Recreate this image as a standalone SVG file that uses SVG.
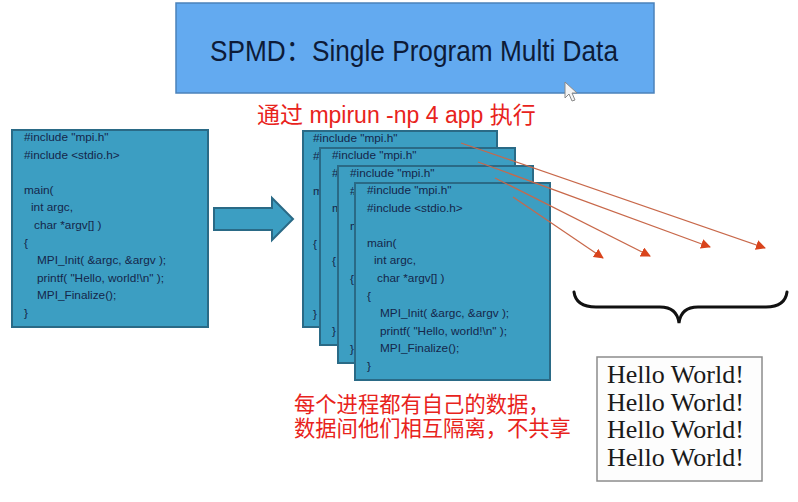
<svg xmlns="http://www.w3.org/2000/svg" xmlns:xlink="http://www.w3.org/1999/xlink" width="798" height="502" viewBox="0 0 798 502">
<style>
.box{fill:#3c9ec2;stroke:#2a6a86;stroke-width:2}
.code{font-family:"Liberation Sans",Arial,sans-serif;font-size:11.8px;fill:#15264a}
.red{font-family:"Liberation Sans","Noto Sans CJK SC",sans-serif;fill:#e8231c}
.hello{font-family:"Liberation Serif","Times New Roman",serif;font-size:26px;fill:#1a1a1a}
.ray{stroke:#c8684a;stroke-width:1.2;fill:none;marker-end:url(#ah)}
</style>
<defs>
<marker id="ah" viewBox="0 0 10 10" refX="9" refY="5" markerWidth="10" markerHeight="10" markerUnits="userSpaceOnUse" orient="auto">
<path d="M0,0 L10,5 L0,10 Z" fill="#d9441c"/>
</marker>
<g id="code" class="code">
<text x="12" y="11">#include "mpi.h"</text>
<text x="12" y="28.6">#include &lt;stdio.h&gt;</text>
<text x="12" y="63.8">main(</text>
<text x="19" y="81.4">int argc,</text>
<text x="22" y="99">char *argv[] )</text>
<text x="12" y="116.6">{</text>
<text x="25" y="134.2">MPI_Init( &amp;argc, &amp;argv );</text>
<text x="25" y="151.8">printf( "Hello, world!\n" );</text>
<text x="25" y="169.4">MPI_Finalize();</text>
<text x="12" y="187">}</text>
</g>
</defs>
<rect width="798" height="502" fill="#ffffff"/>

<g id="title">
<rect x="176" y="3" width="478" height="90" fill="#63aaf0" stroke="#4b82bb" stroke-width="1.5"/>
<text x="210" y="61" font-family="Liberation Sans,Arial,Noto Sans CJK SC,sans-serif" font-size="29" fill="#0d1b38" textLength="408" lengthAdjust="spacingAndGlyphs">SPMD：Single Program Multi Data</text>
<path d="M565,82 L565,98 L569,94 L572,101 L575,100 L572,93 L577,93 Z" fill="#f4f4f4" stroke="#8a8a8a" stroke-width="1"/>
</g>

<g id="label-run">
<text class="red" x="257" y="123" font-size="23">通过 mpirun -np 4 app 执行</text>
</g>

<g id="source">
<rect class="box" x="12" y="130" width="196" height="197"/>
<use xlink:href="#code" transform="translate(12,130)"/>
</g>

<g id="big-arrow">
<path d="M214,208 L272,208 L272,198 L293,219 L272,240 L272,230 L214,230 Z" fill="#3c9ec2" stroke="#2a6a86" stroke-width="2" stroke-linejoin="miter"/>
</g>

<g id="proc1">
<rect class="box" x="303" y="131" width="194" height="196"/>
<use xlink:href="#code" transform="translate(301,131)"/>
</g>
<g id="proc2">
<rect class="box" x="320" y="148" width="195" height="197"/>
<use xlink:href="#code" transform="translate(320,148)"/>
</g>
<g id="proc3">
<rect class="box" x="338" y="166" width="195" height="197"/>
<use xlink:href="#code" transform="translate(338,166)"/>
</g>
<g id="proc4">
<rect class="box" x="355" y="183" width="195" height="197"/>
<use xlink:href="#code" transform="translate(355,183)"/>
</g>

<g id="connectors">
<line class="ray" x1="461" y1="143" x2="765" y2="248"/>
<line class="ray" x1="478" y1="162" x2="710" y2="247"/>
<line class="ray" x1="495" y1="178" x2="650" y2="256"/>
<line class="ray" x1="513" y1="197" x2="603" y2="258"/>
</g>

<g id="brace">
<path d="M574,292 Q576,307 596,307 L660,307 Q677,307 679,323 Q681,307 698,307 L766,307 Q785,307 787,292" fill="none" stroke="#111" stroke-width="3" stroke-linecap="round"/>
</g>

<g id="output">
<rect x="597" y="357" width="165" height="124" fill="#fdfdfd" stroke="#8c8c8c" stroke-width="1.5"/>
<text class="hello" x="607" y="383">Hello World!</text>
<text class="hello" x="607" y="411">Hello World!</text>
<text class="hello" x="607" y="438">Hello World!</text>
<text class="hello" x="607" y="466">Hello World!</text>
</g>

<g id="label-data">
<text class="red" x="294" y="412" font-size="21.3">每个进程都有自己的数据，</text>
<text class="red" x="294" y="436" font-size="21.3">数据间他们相互隔离，不共享</text>
</g>
</svg>
